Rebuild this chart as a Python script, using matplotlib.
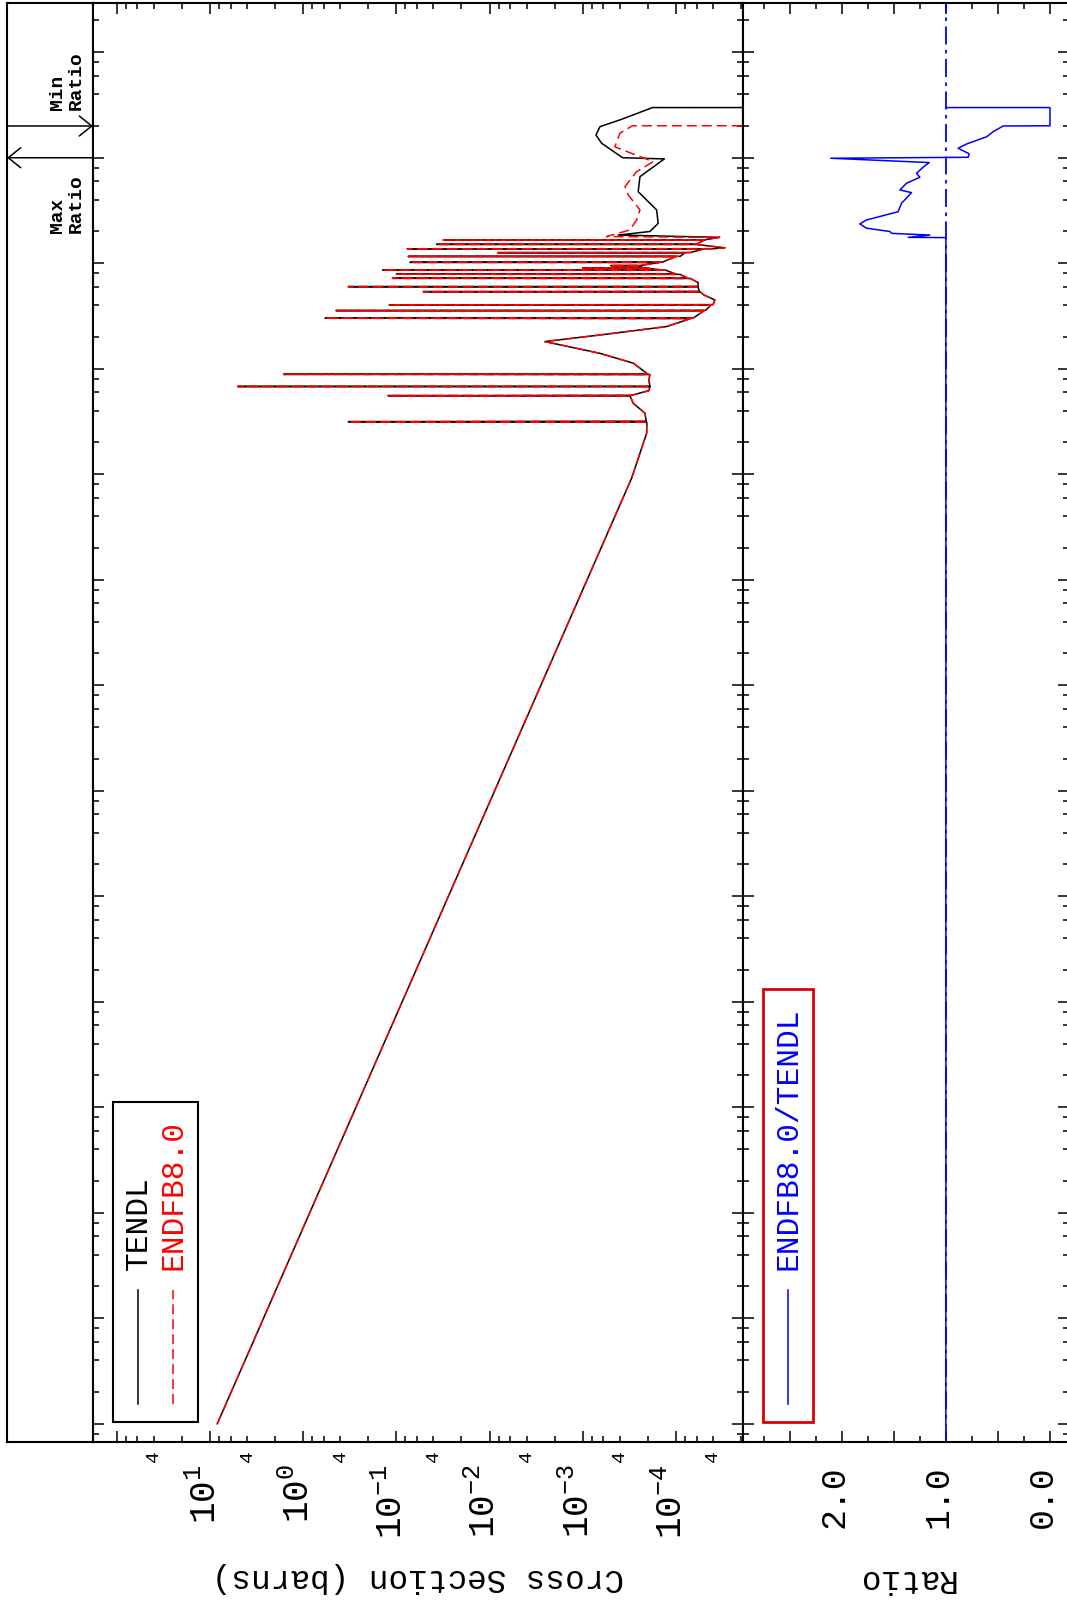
import numpy as np
import matplotlib
matplotlib.use('Agg')
import matplotlib.pyplot as plt
from matplotlib.patches import Rectangle
from matplotlib.lines import Line2D
from matplotlib.ticker import LogLocator, NullFormatter, NullLocator
from matplotlib.transforms import ScaledTranslation

plt.rcParams['font.family'] = ['Liberation Mono', 'DejaVu Sans Mono']
plt.rcParams['mathtext.fontset'] = 'custom'
plt.rcParams['mathtext.rm'] = 'Liberation Mono'
plt.rcParams['mathtext.it'] = 'Liberation Mono'
plt.rcParams['mathtext.bf'] = 'Liberation Mono'

# ---- data (energy in eV, cross section in barns) ----
# part shared by both libraries: 1/v branch and resolved resonances
energy_common = [1e-5, 9.16e3, 2.45e4,
                 3.12e4, 3.15e4, 3.18e4, 3.79e4, 4.71e4,
                 5.52e4, 5.56e4, 5.60e4, 6.2e4,
                 6.75e4, 6.79e4, 6.83e4, 7.8e4,
                 8.80e4, 8.85e4, 8.90e4,
                 1.13e5, 1.40e5, 1.81e5, 2.09e5, 2.51e5, 2.90e5,
                 2.99e5, 3.01e5, 3.03e5, 3.54e5, 3.56e5, 3.58e5,
                 4.01e5, 4.03e5, 4.05e5, 4.49e5, 5.0e5,
                 5.35e5, 5.38e5, 5.41e5, 5.97e5, 6.0e5, 6.03e5, 6.55e5,
                 7.17e5, 7.2e5, 7.23e5, 7.84e5, 7.87e5, 7.9e5,
                 8.61e5, 8.64e5, 8.67e5, 8.98e5, 9.0e5, 9.02e5,
                 9.47e5, 9.5e5, 9.53e5, 1.017e6, 1.02e6, 1.023e6,
                 1.157e6, 1.16e6, 1.163e6, 1.257e6, 1.26e6, 1.263e6,
                 1.367e6, 1.37e6, 1.373e6, 1.40e6,
                 1.506e6, 1.51e6, 1.514e6, 1.655e6, 1.66e6, 1.665e6, 1.76e6]
xs_common = [8.35, 2.99e-4, 2.06e-4,
             2.05e-4, 0.328, 2.08e-4, 2.15e-4, 2.87e-4,
             3.1e-4, 0.123, 3.0e-4, 1.95e-4,
             1.9e-4, 5.05, 1.9e-4, 1.95e-4,
             1.9e-4, 1.62, 2.0e-4,
             2.87e-4, 6.54e-4, 2.55e-3, 6.54e-4, 1.26e-4, 7.7e-5,
             7.0e-5, 0.583, 6.5e-5, 5.0e-5, 0.445, 4.8e-5,
             4.2e-5, 0.119, 4.0e-5, 3.82e-5, 5.0e-5,
             5.5e-5, 0.0514, 5.6e-5, 5.8e-5, 0.328, 5.8e-5, 5.77e-5,
             7.0e-5, 0.110, 7.5e-5, 9.0e-5, 0.100, 1.0e-4,
             1.3e-4, 0.140, 1.5e-4, 2.0e-4, 1.0e-3, 2.2e-4,
             2.5e-4, 5.0e-4, 2.4e-4, 1.5e-4, 0.0715, 1.4e-4,
             1.0e-4, 0.0745, 9.0e-5, 8.0e-5, 8.19e-3, 7.0e-5,
             5.0e-5, 0.0763, 4.0e-5, 2.98e-5,
             6.0e-5, 0.037, 6.0e-5, 5.0e-5, 0.0314, 5.0e-5, 3.4e-5]

# above ~1.8 MeV the two evaluations differ
energy_tendl = [1.85e6, 2.0e6, 2.39e6, 3.2e6, 4.77e6, 6.62e6, 9.75e6, 1.0e7,
                1.37e7, 1.64e7, 1.97e7, 2.3e7, 2.99e7, 2.99e7]
xs_tendl = [4.16e-4, 1.9e-4, 1.55e-4, 1.61e-4, 2.54e-4, 2.43e-4, 1.33e-4, 3.73e-4,
            6.26e-4, 7.21e-4, 6.54e-4, 3.9e-4, 1.78e-4, 1e-9]

energy_endf = [1.79e6, 2.07e6, 2.57e6, 3.2e6, 4.44e6, 5.32e6, 7.38e6, 9.19e6,
               1.1e7, 1.27e7, 1.71e7, 2.01e7, 2.01e7]
xs_endf = [5.54e-4, 3.12e-4, 2.64e-4, 2.43e-4, 3.25e-4, 3.52e-4, 2.64e-4, 1.75e-4,
           2.99e-4, 4.52e-4, 3.99e-4, 2.92e-4, 1e-9]

# ENDFB8.0 / TENDL
ratio_energy = [1e-5, 1.75e6, 1.76e6, 1.85e6, 1.92e6, 2.0e6, 2.15e6, 2.36e6, 2.57e6,
                3.08e6, 3.7e6, 4.67e6, 4.95e6, 5.73e6, 6.53e6, 7.13e6, 8.24e6, 9.0e6,
                9.89e6, 1.01e7, 1.09e7, 1.23e7, 1.35e7, 1.58e7, 1.77e7, 2.0e7, 2.01e7,
                2.99e7, 2.99e7]
ratio_value = [1.0, 1.0, 1.362, 1.154, 1.522, 1.538, 1.763, 1.827, 1.763,
               1.459, 1.426, 1.330, 1.442, 1.378, 1.25, 1.282, 1.212, 1.16,
               2.106, 0.786, 0.776, 0.882, 0.801, 0.609, 0.545, 0.449, 0.0,
               0.0, 1.0]

e_max_ratio = 1.0e7
e_min_ratio = 2.0e7

# ticks
xs_major = [1e2, 1e1, 1e0, 1e-1, 1e-2, 1e-3, 1e-4]
xs_major_labels = ['', r'$\mathregular{10^{1}}$', r'$\mathregular{10^{0}}$',
                   r'$\mathregular{10^{-1}}$', r'$\mathregular{10^{-2}}$',
                   r'$\mathregular{10^{-3}}$', r'$\mathregular{10^{-4}}$']
ratio_major = [0.0, 0.5, 1.0, 1.5, 2.0, 2.5]
ratio_major_labels = ['0.0', '', '1.0', '', '2.0', '']
ratio_minor = [0.25, 0.75, 1.25, 1.75, 2.25, 2.75]

W, H = 1067, 1600
fig = plt.figure(figsize=(W / 100, H / 100), dpi=100)


def fx(px):
    return px / W


def fy(py):
    return 1 - py / H


y0, y1 = 1441.7, 3.3
ax_b, ax_h = fy(y0), fy(y1) - fy(y0)
strip = fig.add_axes([fx(7), ax_b, fx(93) - fx(7), ax_h])
ax1 = fig.add_axes([fx(93), ax_b, fx(742.7) - fx(93), ax_h])
ax2 = fig.add_axes([fx(742.7), ax_b, fx(1068.5) - fx(742.7), ax_h])

elim = (6.76e-6, 2.91e8)

# cross sections
e_tendl = np.concatenate([energy_common, energy_tendl])
s_tendl = np.concatenate([xs_common, xs_tendl])
e_endf = np.concatenate([energy_common, energy_endf])
s_endf = np.concatenate([xs_common, xs_endf])
ax1.plot(s_tendl, e_tendl, color='black', lw=1.1)
ax1.plot(s_endf, e_endf, color='red', lw=1.1, dashes=(6.5, 3.3))
ax1.set_xscale('log')
ax1.set_yscale('log')
ax1.set_xlim(180, 1.92e-5)
ax1.set_ylim(*elim)

# ratio
ax2.axvline(1.0, color='blue', lw=1.3, dashes=(10, 3, 2, 3))
ax2.plot(ratio_value, ratio_energy, color='blue', lw=1.1)
ax2.set_yscale('log')
ax2.set_xlim(2.952, -0.178)
ax2.set_ylim(*elim)

for ax in (ax1, ax2, strip):
    for sp in ax.spines.values():
        sp.set_linewidth(1.5)

for ax in (ax1, ax2):
    ax.yaxis.set_major_locator(LogLocator(base=10, numticks=30))
    ax.yaxis.set_minor_locator(LogLocator(base=10, subs=(2, 4, 6, 8), numticks=30))
    ax.yaxis.set_major_formatter(NullFormatter())
    ax.yaxis.set_minor_formatter(NullFormatter())
    ax.tick_params(which='both', direction='in', top=True, right=True,
                   left=True, bottom=True, labelleft=False, width=1.1)
    ax.tick_params(which='major', length=8)
    ax.tick_params(which='minor', length=4)

# cross-section axis ticks
minor_pos, minor_lab = [], []
for n in range(-5, 3):
    for m in (2, 4, 6, 8):
        v = m * 10.0 ** n
        if 1.92e-5 < v < 180:
            minor_pos.append(v)
            minor_lab.append('4' if m == 4 else '')
ax1.set_xticks(xs_major, xs_major_labels)
ax1.set_xticks(minor_pos, minor_lab, minor=True)
ax1.tick_params(axis='x', which='major', labelsize=26, labelrotation=90, pad=16)
ax1.tick_params(axis='x', which='minor', labelsize=14, labelrotation=90, pad=6)

ax2.set_xticks(ratio_major, ratio_major_labels)
ax2.set_xticks(ratio_minor, minor=True)
ax2.tick_params(axis='x', which='major', labelsize=25, labelrotation=90, pad=17)
shift = ScaledTranslation(-8 / 100, 0, fig.dpi_scale_trans)
for lab in ax2.get_xticklabels():
    lab.set_transform(lab.get_transform() + shift)
shift1 = ScaledTranslation(-4 / 100, 0, fig.dpi_scale_trans)
for lab in ax1.get_xticklabels():
    lab.set_transform(lab.get_transform() + shift1)

ax1.set_xlabel('Cross Section (barns)', fontsize=23.5, rotation=180, va='center')
ax1.xaxis.set_label_coords(0.5, (H - 1578 - (H - y0)) / (y0 - y1))
ax2.set_xlabel('Ratio', fontsize=23.5, rotation=180, va='center')
ax2.xaxis.set_label_coords(0.5, (H - 1578 - (H - y0)) / (y0 - y1))

# header strip with max / min ratio markers
strip.set_yscale('log')
strip.set_ylim(*elim)
strip.set_xlim(0, 1)
strip.set_xticks([])
strip.set_yticks([])
strip.yaxis.set_minor_locator(NullLocator())
arrow = '->,head_length=0.45,head_width=0.36'
strip.annotate('', xy=(1, e_min_ratio), xytext=(0, e_min_ratio),
               arrowprops=dict(arrowstyle=arrow, lw=1.1, color='black',
                               shrinkA=0, shrinkB=0, mutation_scale=20))
strip.annotate('', xy=(0, e_max_ratio), xytext=(1, e_max_ratio),
               arrowprops=dict(arrowstyle=arrow, lw=1.1, color='black',
                               shrinkA=0, shrinkB=0, mutation_scale=20))
fig.text(fx(67), fy(110), 'Min\nRatio', rotation=90, ha='center', va='bottom',
         fontsize=14, fontweight='bold', multialignment='left', linespacing=1.1)
fig.text(fx(67), fy(233), 'Max\nRatio', rotation=90, ha='center', va='bottom',
         fontsize=14, fontweight='bold', multialignment='left', linespacing=1.1)

# legend of the cross-section panel
fig.add_artist(Rectangle((fx(113), fy(1422)), fx(198) - fx(113), fy(1102) - fy(1422),
                         transform=fig.transFigure, fill=False, lw=1.5, ec='black'))
fig.add_artist(Line2D([fx(137.7)] * 2, [fy(1404), fy(1290)],
                      transform=fig.transFigure, color='black', lw=1.1))
fig.add_artist(Line2D([fx(172.7)] * 2, [fy(1404), fy(1290)],
                      transform=fig.transFigure, color='red', lw=1.1, dashes=(6.5, 3.3)))
fig.text(fx(139), fy(1270), 'TENDL', rotation=90, ha='center', va='bottom',
         fontsize=22.5, color='black')
fig.text(fx(174), fy(1270), 'ENDFB8.0', rotation=90, ha='center', va='bottom',
         fontsize=22.5, color='red')

# legend of the ratio panel
fig.add_artist(Rectangle((fx(762.7), fy(1422)), fx(812.7) - fx(762.7), fy(989) - fy(1422),
                         transform=fig.transFigure, fill=False, lw=2, ec='#dd0000'))
fig.add_artist(Line2D([fx(788.3)] * 2, [fy(1404), fy(1290)],
                      transform=fig.transFigure, color='blue', lw=1.1))
fig.text(fx(788.5), fy(1270), 'ENDFB8.0/TENDL', rotation=90, ha='center', va='bottom',
         fontsize=22.5, color='blue')

fig.savefig('out.png', dpi=100)
